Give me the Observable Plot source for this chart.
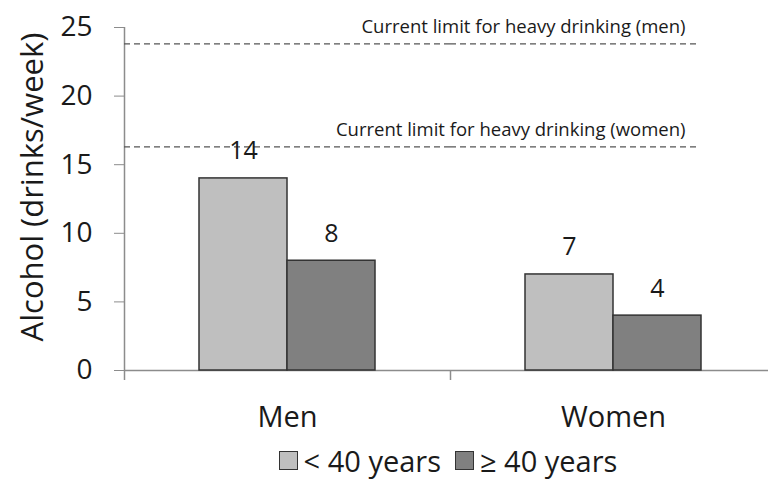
<!DOCTYPE html>
<html>
<head>
<meta charset="utf-8">
<script src="https://cdn.jsdelivr.net/npm/d3@7"></script>
<script src="https://cdn.jsdelivr.net/npm/@observablehq/plot@0.6"></script>
<style>
  html, body { margin: 0; padding: 0; background: #fff; }
  #wrap { width: 768px; overflow: hidden; font-family: "Open Sans", sans-serif; color: #1a1a1a; }
  #chart svg { max-width: none !important; display: block; }
  #legend { display: flex; justify-content: center; align-items: center; height: 41px; padding-left: 128px; font-size: 29px; }
  .item { display: flex; align-items: center; margin: 0 7px; }
  .sw { width: 19px; height: 19px; border: 1.5px solid #333; margin-right: 6px; box-sizing: border-box; }
</style>
</head>
<body>
<div id="wrap"><div id="chart"></div><div id="legend"></div></div>
<script>
const sexes = ["Men", "Women"];
const ages = ["< 40 years", "≥ 40 years"];
const menValues = [14, 8];
const womenValues = [7, 4];
const yTicks = [0, 5, 10, 15, 20, 25];
const limitValues = [23.8, 16.3];
const limitLabels = ["Current limit for heavy drinking (men)", "Current limit for heavy drinking (women)"];
const colors = ["#bfbfbf", "#808080"];

const data = [];
sexes.forEach((s, i) => {
  const vals = i === 0 ? menValues : womenValues;
  ages.forEach((a, j) => data.push({sex: s, age: a, value: vals[j]}));
});
const limits = limitValues.map((v, i) => ({value: v, label: limitLabels[i]}));

const W = 776, H = 440, ML = 124, MR = 0;
const facetW = (W - ML - MR) / sexes.length;
const font = "Open Sans, sans-serif";
const axisGray = "#8c8c8c";

const chart = Plot.plot({
  width: W,
  height: H,
  marginTop: 27,
  marginBottom: 70,
  marginLeft: ML,
  marginRight: MR,
  style: {fontFamily: font, color: "#1a1a1a", background: "#fff"},
  fx: {domain: sexes, padding: 0},
  x: {domain: ages, paddingInner: 0, paddingOuter: 0.852, axis: null},
  y: {domain: [0, 25]},
  color: {domain: ages, range: colors},
  marks: [
    Plot.axisY({ticks: yTicks, tickSize: 10, tickPadding: 22, fontSize: 28, stroke: axisGray, label: null, tickFormat: d => d}),
    Plot.ruleX([0], {x: null, fx: () => "Men", y1: 25, y2: 0, dx: -facetW / 2, stroke: axisGray, strokeWidth: 1.5}),
    Plot.axisFx({anchor: "bottom", tickSize: 0, tickPadding: 36, fontSize: 29, label: null}),
    Plot.ruleY([0], {stroke: axisGray, strokeWidth: 1.5}),
    Plot.ruleX(sexes, {x: null, fx: d => d, y1: 0, y2: 0, insetBottom: -10, dx: -facetW / 2, stroke: axisGray, strokeWidth: 1.5}),
    Plot.ruleY(limits, {fx: () => "Men", y: "value", stroke: "#555", strokeWidth: 1.3, strokeDasharray: "6,4"}),
    Plot.ruleY(limits, {fx: () => "Women", y: "value", insetRight: 79, stroke: "#555", strokeWidth: 1.3, strokeDasharray: "6,4"}),
    Plot.text(limits, {fx: () => "Women", y: "value", text: "label", frameAnchor: "right", textAnchor: "end", dx: -91, dy: -17, fontSize: 18.5, fill: "#1a1a1a"}),
    Plot.barY(data, {fx: "sex", x: "age", y: "value", fill: "age", stroke: "#333", strokeWidth: 1.5}),
    Plot.text(data, {fx: "sex", x: "age", y: "value", text: d => String(d.value), dy: -27, fontSize: 25, fill: "#1a1a1a"}),
    Plot.text(["Alcohol (drinks/week)"], {fx: () => "Men", frameAnchor: "left", textAnchor: "middle", rotate: -90, dx: -91, dy: -12, fontSize: 31, fill: "#1a1a1a"})
  ]
});
document.getElementById("chart").appendChild(chart);

const legend = document.getElementById("legend");
ages.forEach((a, i) => {
  const item = document.createElement("div");
  item.className = "item";
  const sw = document.createElement("span");
  sw.className = "sw";
  sw.style.background = colors[i];
  const t = document.createElement("span");
  t.textContent = a;
  item.appendChild(sw);
  item.appendChild(t);
  legend.appendChild(item);
});
</script>
</body>
</html>
